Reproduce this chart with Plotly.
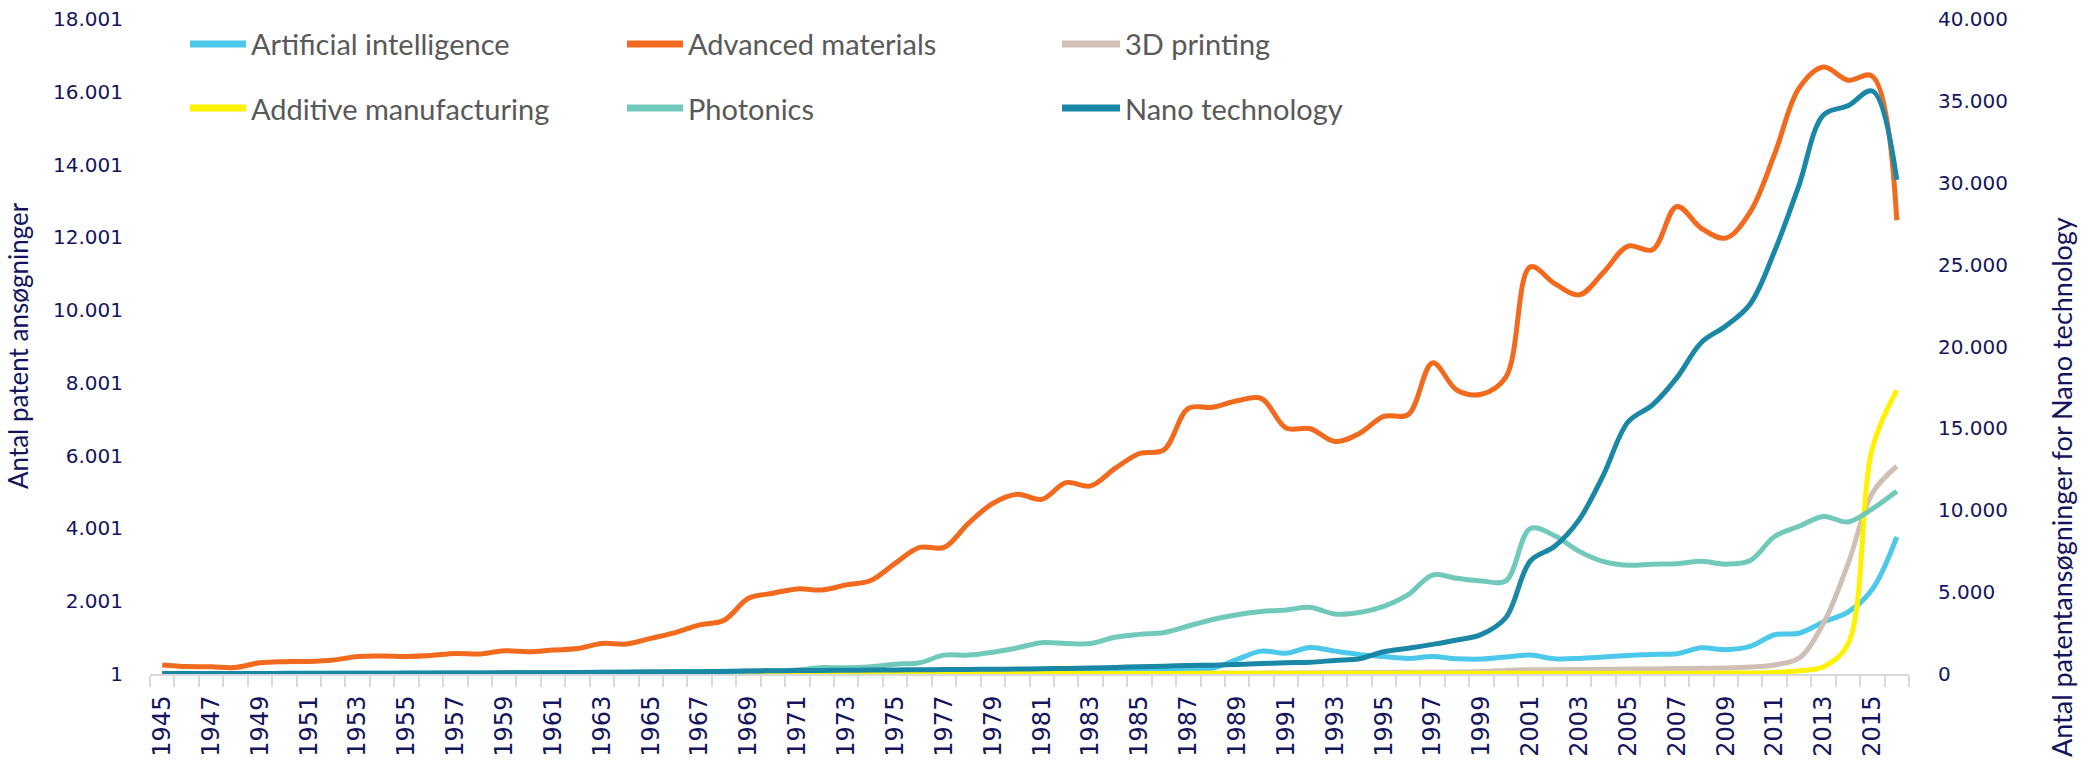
import plotly.graph_objects as go

# Patent applications per year, 1945-2016
years = list(range(1945, 2017))

artificial_intelligence = [
    0, 0, 0, 0, 0, 0, 0, 0, 0, 0,
    0, 5, 5, 5, 5, 10, 10, 10, 10, 15,
    15, 20, 20, 25, 25, 30, 30, 35, 40, 40,
    45, 50, 55, 60, 65, 70, 75, 80, 90, 95,
    100, 110, 130, 160, 400, 630, 570, 730, 630, 540,
    480, 430, 480, 420, 410, 470, 520, 420, 430, 470,
    510, 540, 560, 720, 670, 760, 1080, 1120, 1430, 1700,
    2330, 3770,
]

advanced_materials = [
    250, 205, 200, 180, 310, 340, 345, 385, 480, 495,
    485, 510, 565, 550, 640, 615, 660, 700, 840, 825,
    980, 1140, 1350, 1480, 2080, 2220, 2340, 2310, 2450, 2570,
    3040, 3480, 3480, 4140, 4690, 4940, 4800, 5260, 5170, 5650,
    6060, 6160, 7300, 7330, 7510, 7570, 6760, 6740, 6390, 6610,
    7080, 7130, 8550, 7800, 7690, 8160, 11190, 10730, 10420, 11040,
    11760, 11660, 12850, 12250, 11980, 12700, 14290, 16100, 16680, 16320,
    16430, 12470,
]

printing_3d = [
    0, 0, 0, 0, 0, 0, 0, 0, 0, 0,
    0, 0, 0, 0, 0, 0, 0, 0, 0, 0,
    0, 0, 0, 0, 0, 0, 0, 0, 0, 0,
    0, 0, 0, 0, 0, 0, 0, 0, 0, 0,
    0, 10, 15, 20, 20, 25, 30, 30, 35, 40,
    45, 50, 50, 55, 70, 100, 120, 120, 125, 130,
    135, 140, 150, 160, 165, 190, 250, 440, 1400, 3020,
    4970, 5710,
]

additive_manufacturing = [
    0, 0, 0, 0, 0, 0, 0, 0, 0, 0,
    0, 0, 0, 0, 0, 0, 0, 0, 0, 0,
    0, 5, 5, 5, 5, 5, 5, 10, 10, 10,
    10, 10, 10, 10, 10, 15, 15, 15, 15, 15,
    15, 15, 20, 20, 20, 20, 20, 20, 20, 20,
    20, 25, 25, 25, 25, 25, 25, 25, 25, 25,
    25, 25, 25, 25, 30, 30, 45, 90, 200, 820,
    6200, 7800,
]

photonics = [
    10, 10, 10, 10, 15, 15, 15, 20, 20, 20,
    25, 25, 30, 30, 35, 35, 40, 45, 50, 55,
    60, 65, 70, 75, 85, 95, 110, 180, 170, 200,
    270, 310, 520, 520, 600, 720, 860, 840, 840, 1010,
    1090, 1140, 1320, 1500, 1630, 1720, 1760, 1830, 1650, 1690,
    1860, 2180, 2720, 2630, 2560, 2560, 4000, 3800, 3370, 3090,
    2990, 3020, 3030, 3100, 3020, 3120, 3780, 4060, 4330, 4180,
    4540, 5020,
]

nano_technology = [
    30, 30, 30, 35, 35, 40, 40, 45, 45, 50,
    55, 60, 60, 65, 70, 75, 80, 90, 100, 110,
    120, 130, 145, 160, 180, 200, 210, 220, 230, 240,
    250, 260, 270, 280, 290, 300, 320, 340, 360, 400,
    450, 480, 520, 540, 580, 640, 690, 720, 830, 930,
    1360, 1570, 1810, 2080, 2420, 3450, 6900, 7800, 9430, 12180,
    15390, 16430, 18100, 20250, 21250, 22600, 25830, 29860, 34140, 34700,
    35600, 30170,
]

left_ticks = [1, 2001, 4001, 6001, 8001, 10001, 12001, 14001, 16001, 18001]
right_ticks = [0, 5000, 10000, 15000, 20000, 25000, 30000, 35000, 40000]


def dotted(n):
    """Format with a dot as thousands separator."""
    return f"{n:,}".replace(",", ".")


series = [
    ("Artificial intelligence", artificial_intelligence, "#4CC8EA", "y"),
    ("Advanced materials", advanced_materials, "#F26A1D", "y"),
    ("3D printing", printing_3d, "#CFBFB4", "y"),
    ("Additive manufacturing", additive_manufacturing, "#FFF200", "y"),
    ("Photonics", photonics, "#70C9BA", "y"),
    ("Nano technology", nano_technology, "#1A87A6", "y2"),
]

NAVY = "#15155E"
W, H = 2094, 762
L, R, T, B = 150, 185, 19, 88
PW, PH = W - L - R, H - T - B


def px_x(x):
    return (x - L) / PW


def px_y(y):
    return (H - B - y) / PH


fig = go.Figure()
for name, values, color, axis in series:
    fig.add_trace(go.Scatter(
        x=years, y=values, name=name, yaxis=axis, mode="lines",
        line=dict(color=color, width=5, shape="spline", smoothing=1.0),
        showlegend=False,
    ))

# Legend drawn as two rows of three entries
legend_cols = [(190, 246, 249), (627, 683, 686), (1062, 1120, 1123)]
legend_rows = [44, 108]
shapes, annotations = [], []
for i, (name, _, color, _) in enumerate(series):
    row, col = divmod(i, 3)
    x0, x1, xt = legend_cols[col]
    yy = legend_rows[row]
    shapes.append(dict(
        type="line", xref="paper", yref="paper",
        x0=px_x(x0), x1=px_x(x1), y0=px_y(yy), y1=px_y(yy),
        line=dict(color=color, width=7),
    ))
    annotations.append(dict(
        text=name, xref="paper", yref="paper", x=px_x(xt), y=px_y(yy),
        xanchor="left", yanchor="middle", showarrow=False,
        font=dict(family="Lato", size=29, color="#595959"),
    ))

# Axis titles
annotations.append(dict(
    text="Antal patent ansøgninger", xref="paper", yref="paper",
    x=px_x(18), y=px_y(346), textangle=-90, showarrow=False,
    xanchor="center", yanchor="middle",
    font=dict(family="Lato", size=26, color=NAVY),
))
annotations.append(dict(
    text="Antal patentansøgninger for Nano technology", xref="paper", yref="paper",
    x=px_x(2062), y=px_y(487), textangle=-90, showarrow=False,
    xanchor="center", yanchor="middle",
    font=dict(family="Lato", size=27, color=NAVY),
))

fig.update_layout(
    width=W, height=H,
    margin=dict(l=L, r=R, t=T, b=B, pad=0),
    paper_bgcolor="white", plot_bgcolor="white",
    showlegend=False,
    shapes=shapes, annotations=annotations,
    xaxis=dict(
        range=[years[0] - 0.5, years[-1] + 0.5],
        tickvals=years[::2], ticktext=[str(y) for y in years[::2]],
        tickangle=-90, ticks="", ticklabelstandoff=10,
        tickfont=dict(family="DejaVu Sans", size=24, color=NAVY),
        showgrid=False, zeroline=False, automargin=False,
        showline=True, linecolor="#D9D9D9", linewidth=2,
        minor=dict(
            tickvals=[y - 0.5 for y in years] + [years[-1] + 0.5],
            ticks="outside", ticklen=11, tickwidth=2, tickcolor="#D9D9D9",
            showgrid=False,
        ),
    ),
    yaxis=dict(
        range=[left_ticks[0], left_ticks[-1]],
        tickvals=left_ticks, ticktext=[dotted(v) for v in left_ticks],
        ticks="", ticklabelstandoff=26, automargin=False,
        tickfont=dict(family="DejaVu Sans", size=20, color=NAVY),
        showgrid=False, zeroline=False, showline=False,
    ),
    yaxis2=dict(
        range=[right_ticks[0], right_ticks[-1]],
        tickvals=right_ticks, ticktext=[dotted(v) for v in right_ticks],
        overlaying="y", side="right",
        ticks="", ticklabelstandoff=28, automargin=False,
        tickfont=dict(family="DejaVu Sans", size=20, color=NAVY),
        showgrid=False, zeroline=False, showline=False,
    ),
)

fig.write_html("out.html")
